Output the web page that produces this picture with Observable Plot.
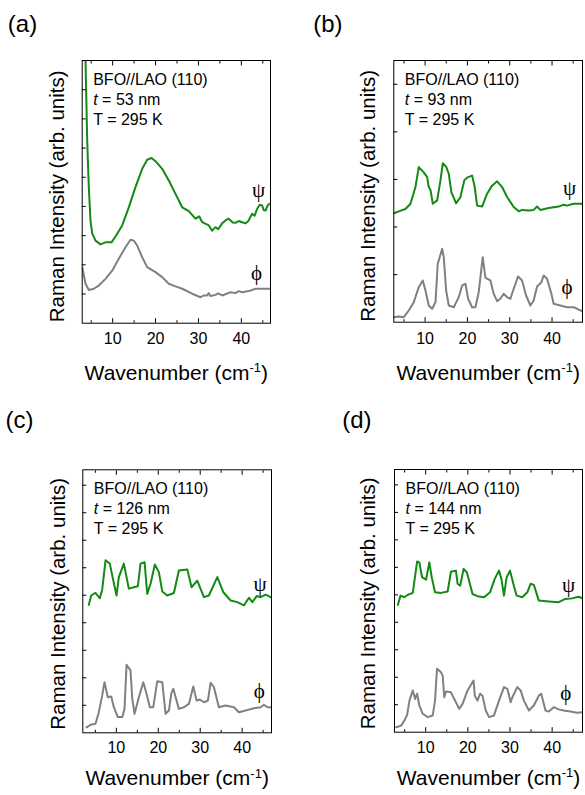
<!DOCTYPE html>
<html><head><meta charset="utf-8">
<script src="https://cdn.jsdelivr.net/npm/d3@7"></script>
<script src="https://cdn.jsdelivr.net/npm/@observablehq/plot@0.6"></script>
<style>
body{margin:0;background:#fff;}
#chart{position:relative;width:585px;height:795px;overflow:hidden;background:#fff;}
#chart > svg{position:absolute;}
</style></head><body><div id="chart"></div>
<script>
// ---- data ----
const panelLabels = ["(a)", "(b)", "(c)", "(d)"];
const thicknessNm = [53, 93, 126, 144];
const temperatureK = 295;
const sampleName = "BFO//LAO (110)";
const xMajorTicks = [10, 20, 30, 40];
const xMinorTicks = [5, 15, 25, 35, 45];
const xTitle = "Wavenumber (cm-1)";
const yTitle = "Raman Intensity (arb. units)";

const psiA = [[3.6,9.6],[3.67,9.0],[4.07,6.26],[4.44,4.66],[4.83,3.52],[5.23,3.08],[6.0,2.83],[7.17,2.70],[8.33,2.77],[9.73,2.77],[10.66,2.97],[12.22,3.35],[13.76,3.97],[15.32,4.66],[16.89,5.29],[18.05,5.60],[19.05,5.66],[19.99,5.55],[21.55,5.29],[23.09,4.89],[24.65,4.43],[26.21,3.97],[27.75,3.84],[29.31,3.58],[30.2,3.66],[30.87,3.46],[32.41,3.35],[33.2,3.17],[33.97,3.29],[34.6,3.22],[35.53,3.42],[36.3,3.52],[37.07,3.58],[38.0,3.45],[38.63,3.44],[39.4,3.50],[40.2,3.46],[41.0,3.42],[41.73,3.52],[42.1,3.64],[42.53,3.75],[43.1,3.68],[43.69,3.92],[44.3,4.06],[44.86,4.03],[45.2,3.88],[45.63,3.86],[46.2,4.05],[46.79,4.11]];
const phiA = [[2.95,1.9],[3.67,1.35],[4.44,1.14],[5.6,1.18],[6.77,1.29],[8.33,1.52],[9.89,1.80],[11.43,2.21],[12.99,2.60],[14.16,2.86],[14.93,2.83],[15.72,2.66],[16.89,2.26],[18.05,1.92],[19.99,1.75],[21.55,1.58],[23.09,1.35],[24.65,1.26],[26.21,1.18],[28.54,1.01],[30.48,0.89],[31.3,0.95],[32.04,0.95],[32.4,1.03],[32.8,0.93],[33.97,0.97],[34.6,1.02],[35.53,0.95],[37.47,1.06],[38.63,1.03],[39.4,1.10],[40.2,1.06],[41.73,1.10],[43.3,1.18],[44.86,1.18],[46.79,1.18]];
const psiB = [[2.6,2.29],[3.78,2.33],[5.36,2.38],[6.54,2.49],[7.72,2.84],[8.50,3.26],[9.68,3.15],[10.49,3.05],[10.86,2.84],[11.27,2.78],[11.81,2.49],[12.85,2.56],[13.63,2.98],[14.17,3.34],[14.97,3.27],[15.59,3.12],[16.22,2.73],[17.33,2.50],[18.35,2.63],[19.29,2.99],[20.17,3.05],[21.11,3.08],[21.73,2.84],[22.29,2.45],[23.47,2.43],[24.65,2.70],[25.83,2.87],[27.02,2.96],[28.2,2.84],[29.38,2.63],[30.94,2.42],[32.12,2.33],[32.92,2.36],[34.48,2.35],[35.66,2.36],[36.46,2.43],[37.24,2.36],[39.2,2.40],[41.56,2.43],[42.74,2.47],[43.54,2.45],[45.1,2.49],[47.09,2.49]];
const phiB = [[2.6,0.105],[3.78,0.12],[4.96,0.105],[6.14,0.246],[7.32,0.42],[8.50,0.736],[9.45,0.877],[10.09,0.667],[10.86,0.351],[11.67,0.282],[12.45,0.42],[12.99,1.228],[14.03,1.543],[14.41,1.367],[14.97,0.667],[15.59,0.351],[16.77,0.315],[17.95,0.526],[18.75,0.772],[19.53,0.807],[20.17,0.492],[21.11,0.315],[21.89,0.315],[22.67,0.631],[23.62,1.367],[24.25,0.934],[25.43,0.877],[26.21,0.597],[27.02,0.442],[27.79,0.492],[28.57,0.597],[29.38,0.526],[30.16,0.492],[30.94,0.702],[31.97,0.961],[32.92,0.877],[33.86,0.561],[34.88,0.351],[35.66,0.456],[36.46,0.751],[37.48,0.841],[38.02,0.982],[38.82,0.913],[39.84,0.597],[40.38,0.387],[41.96,0.351],[43.54,0.315],[45.1,0.315],[45.91,0.282],[47.09,0.231]];
const psiC = [[3.43,4.65],[4.0,4.99],[5.03,5.09],[6.06,4.89],[6.63,5.21],[7.42,6.27],[8.44,6.15],[9.26,5.54],[10.04,4.99],[10.59,5.66],[11.79,6.15],[12.98,5.24],[14.17,5.29],[15.13,5.33],[15.77,6.15],[16.73,6.20],[17.37,5.05],[18.16,5.42],[19.18,6.12],[20.14,5.84],[20.95,5.14],[22.14,4.99],[23.72,5.08],[24.91,5.90],[26.92,5.94],[27.94,5.29],[29.3,5.53],[30.88,4.93],[32.07,4.99],[34.08,5.66],[35.51,5.11],[37.25,4.81],[38.85,4.75],[40.43,4.63],[41.62,4.91],[42.43,4.75],[43.46,4.97],[44.41,4.93],[45.6,5.02],[46.8,4.93]];
const phiC = [[2.88,0.20],[3.84,0.29],[5.03,0.33],[5.82,0.75],[6.63,1.36],[7.18,1.84],[7.97,1.29],[8.78,1.32],[9.40,0.93],[10.35,0.57],[11.40,0.57],[11.95,0.87],[12.43,2.47],[13.38,2.27],[13.79,1.24],[14.34,0.69],[15.37,1.29],[16.42,1.84],[17.2,1.42],[17.99,0.93],[18.8,0.93],[19.76,1.87],[20.95,1.84],[21.74,0.69],[22.53,0.81],[23.1,1.42],[23.58,1.60],[24.91,0.87],[26.1,0.93],[27.3,1.05],[28.35,1.68],[29.14,1.17],[29.92,1.21],[30.88,1.11],[31.83,1.17],[32.48,1.82],[33.26,1.66],[34.46,0.93],[36.06,0.99],[38.04,0.93],[39.23,0.75],[40.83,0.81],[42.81,0.89],[44.41,0.93],[45.2,1.02],[46.0,0.93],[46.8,0.93]];
const psiD = [[3.40,4.63],[4.02,4.97],[4.96,4.91],[5.76,5.0],[6.94,5.07],[7.96,6.21],[8.50,6.18],[9.14,5.64],[10.08,5.55],[10.86,6.18],[11.43,5.64],[12.21,5.09],[13.63,5.07],[15.21,5.12],[15.99,5.84],[17.17,5.88],[17.57,5.40],[18.18,5.33],[18.99,5.94],[19.77,5.82],[21.11,5.03],[22.29,4.95],[23.85,4.91],[25.27,5.09],[26.38,5.58],[27.39,5.88],[27.96,5.58],[28.57,4.97],[29.21,5.64],[30.0,5.88],[30.79,5.40],[31.57,4.97],[32.92,4.91],[34.1,5.09],[34.88,5.40],[35.66,5.36],[36.84,4.79],[39.2,4.76],[41.56,4.73],[43.14,4.85],[44.73,4.87],[46.28,4.93],[47.2,4.87]];
const phiD = [[3.0,0.18],[4.18,0.24],[4.96,0.43],[5.6,0.63],[6.14,1.15],[6.94,1.52],[7.49,1.21],[7.96,1.40],[8.5,0.97],[9.31,0.67],[10.49,0.55],[11.67,0.61],[12.21,1.15],[12.68,2.31],[13.63,2.18],[14.03,2.06],[14.41,1.27],[14.81,1.48],[15.99,1.45],[16.77,1.21],[17.95,0.85],[18.75,1.03],[19.93,1.52],[21.35,1.88],[21.66,1.33],[22.29,1.15],[22.91,1.40],[23.47,1.33],[24.25,0.79],[25.03,0.55],[26.21,0.61],[27.39,1.15],[28.57,1.64],[29.38,1.58],[30.16,1.09],[30.56,1.27],[31.74,1.64],[32.52,1.52],[33.3,1.15],[34.48,0.79],[35.66,0.97],[36.84,1.33],[37.41,1.40],[38.42,0.79],[39.2,0.75],[40.38,0.91],[41.56,0.83],[42.74,0.79],[44.32,0.75],[45.91,0.71],[47.2,0.73]];

const yTicksA = [1,2,3,4,5,6,7,8];
const yTicksB = [1,2,3,4,5];
const yTicksCD = [1,2,3,4,5,6,7,8,9];

// ---- layout (styles / positions only) ----
const GREEN = "#138a13", GRAY = "#808080";
const SANS = "'Liberation Sans', Arial, Helvetica, sans-serif";
const SERIF = "'Liberation Serif', 'DejaVu Serif', serif";
const layout = [
  {psi: psiA, phi: phiA, yTicks: yTicksA, xDomain: [2.9, 46.8], yDomain: [0, 9],
   left: 0, top: 0, width: 290, height: 395, mt: 60, mr: 20, mb: 72.3, ml: 81.7,
   gap: 9.6, xTitleDy: 56.6, yTitleDx: -18, yTitleDy: 4.5, labDx: -74.4, labDy: -28.3,
   psiOff: [-12, -12.7], phiOff: [-14, -15.3]},
  {psi: psiB, phi: phiB, yTicks: yTicksB, xDomain: [2.6, 47.2], yDomain: [0, 5.5],
   left: 290, top: 0, width: 295, height: 395, mt: 60, mr: 3, mb: 73.3, ml: 103.3,
   gap: 10.6, xTitleDy: 57.6, yTitleDx: -19.3, yTitleDy: 4.5, labDx: -80.6, labDy: -29,
   psiOff: [-12.5, -15], phiOff: [-15, -24]},
  {psi: psiC, phi: phiC, yTicks: yTicksCD, xDomain: [2, 47], yDomain: [0, 9.56],
   left: 0, top: 395, width: 290, height: 400, mt: 74.3, mr: 19, mb: 62.7, ml: 82.3,
   gap: 8.7, xTitleDy: 52.3, yTitleDx: -18.3, yTitleDy: 2.5, labDx: -77.3, labDy: -41.6,
   psiOff: [-10.5, -13.4], phiOff: [-11.3, -16]},
  {psi: psiD, phi: phiD, yTicks: yTicksCD, xDomain: [2.6, 47.2], yDomain: [0, 9.56],
   left: 290, top: 395, width: 295, height: 400, mt: 74, mr: 3, mb: 63.3, ml: 104,
   gap: 9, xTitleDy: 52.3, yTitleDx: -20, yTitleDy: 2.5, labDx: -52.3, labDy: -41.3,
   psiOff: [-14, -13.2], phiOff: [-16.8, -18.4]}
];

const chart = document.getElementById("chart");
const NS = "http://www.w3.org/2000/svg";
const X = d => d[0], Y = d => d[1];

layout.forEach((p, i) => {
  const note = `${sampleName}\nt = ${thicknessNm[i]} nm\nT = ${temperatureK} K`;
  const svg = Plot.plot({
    width: p.width, height: p.height,
    marginTop: p.mt, marginRight: p.mr, marginBottom: p.mb, marginLeft: p.ml,
    style: {fontFamily: SANS, fontSize: "16px", color: "#000", background: "transparent"},
    x: {domain: p.xDomain, axis: null},
    y: {domain: p.yDomain, axis: null},
    marks: [
      Plot.line(p.phi, {x: X, y: Y, stroke: GRAY, strokeWidth: 2, strokeLinejoin: "round", clip: true}),
      Plot.line(p.psi, {x: X, y: Y, stroke: GREEN, strokeWidth: 2, strokeLinejoin: "round", clip: true}),
      Plot.frame({stroke: "#000", strokeWidth: 1}),
      Plot.axisX(xMajorTicks, {anchor: "bottom", tickSize: -4.5, tickPadding: p.gap + 4.5, fontSize: 16, label: null}),
      Plot.axisX(xMinorTicks, {anchor: "bottom", tickSize: -2.5, fill: "none", label: null}),
      Plot.axisX(xMajorTicks, {anchor: "top", tickSize: -4.5, fill: "none", label: null}),
      Plot.axisX(xMinorTicks, {anchor: "top", tickSize: -2.5, fill: "none", label: null}),
      Plot.axisY(p.yTicks, {anchor: "left", tickSize: -4, fill: "none", label: null}),
      Plot.text([note], {text: d => d, frameAnchor: "top-left", textAnchor: "start", lineAnchor: "top",
        lineHeight: 1.25, dx: 11, dy: 10, fontSize: 16, fill: "#000"}),
      Plot.text(p.psi, Plot.selectLast({x: X, y: Y, text: () => "ψ", dx: p.psiOff[0], dy: p.psiOff[1],
        fontFamily: SERIF, fontSize: 21, textAnchor: "middle", lineAnchor: "middle", fill: "#000", opacity: 0.99})),
      Plot.text(p.phi, Plot.selectLast({x: X, y: Y, text: () => "ϕ", dx: p.phiOff[0], dy: p.phiOff[1],
        fontFamily: SERIF, fontSize: 21, textAnchor: "middle", lineAnchor: "middle", fill: "#000", opacity: 0.99})),
      Plot.text([xTitle], {text: d => d, frameAnchor: "bottom", textAnchor: "middle", lineAnchor: "bottom",
        dy: p.xTitleDy, fontSize: 21, fill: "#000"}),
      Plot.text([yTitle], {text: d => d, frameAnchor: "left", rotate: -90, textAnchor: "middle", lineAnchor: "bottom",
        dx: p.yTitleDx, dy: p.yTitleDy, fontSize: 20.5, fill: "#000"}),
      Plot.text([panelLabels[i]], {text: d => d, frameAnchor: "top-left", textAnchor: "start", lineAnchor: "bottom",
        dx: p.labDx, dy: p.labDy, fontSize: 24, fill: "#000"})
    ]
  });
  svg.style.left = p.left + "px";
  svg.style.top = p.top + "px";
  // rich text: italic t, superscript -1
  svg.querySelectorAll("text, tspan").forEach(el => {
    if (el.childElementCount === 0 && /^t = \d+ nm$/.test(el.textContent)) {
      const rest = el.textContent.slice(1);
      el.textContent = "";
      const it = document.createElementNS(NS, "tspan");
      it.setAttribute("font-style", "italic");
      it.textContent = "t";
      el.appendChild(it);
      el.appendChild(document.createTextNode(rest));
    }
    if (el.tagName === "text" && el.textContent === xTitle) {
      el.textContent = "Wavenumber (cm";
      const sup = document.createElementNS(NS, "tspan");
      sup.setAttribute("font-size", "13");
      sup.setAttribute("dy", "-7.5");
      sup.textContent = "-1";
      const cl = document.createElementNS(NS, "tspan");
      cl.setAttribute("dy", "7.5");
      cl.textContent = ")";
      el.appendChild(sup);
      el.appendChild(cl);
    }
  });
  chart.appendChild(svg);
});
</script></body></html>
